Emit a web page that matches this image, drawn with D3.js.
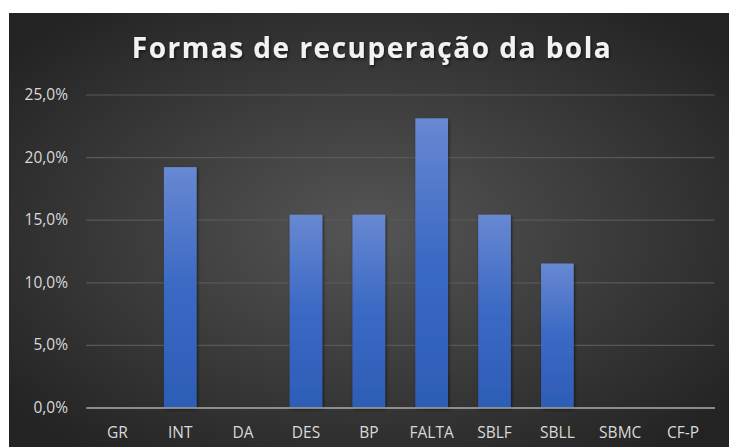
<!DOCTYPE html>
<html>
<head>
<meta charset="utf-8">
<script src="https://cdn.jsdelivr.net/npm/d3@7"></script>
<style>
    html, body { margin: 0; padding: 0; background: #fff; }
    text { font-family: 'Open Sans', 'DejaVu Sans', sans-serif; }
</style>
</head>
<body>
<div id="chart"></div>
<script>
const categories = ['GR', 'INT', 'DA', 'DES', 'BP', 'FALTA', 'SBLF', 'SBLL', 'SBMC', 'CF-P'];
const values = [0, 0.192, 0, 0.154, 0.154, 0.231, 0.154, 0.115, 0, 0];
const tickValues = [0, 0.05, 0.10, 0.15, 0.20, 0.25];

const width = 729;
const height = 447;
const margin = { top: 94.5, bottom: 39.5, left: 86, right: 14.5 };

const svg = d3.select('#chart').append('svg').attr('width', width).attr('height', height);
const defs = svg.append('defs');

// Excel-like dark radial background
const bg = defs.append('radialGradient').attr('id', 'bg').attr('cx', '50%').attr('cy', '50%').attr('r', '65%');
bg.append('stop').attr('offset', '0%').attr('stop-color', '#555555');
bg.append('stop').attr('offset', '100%').attr('stop-color', '#232323');

const barGrad = defs.append('linearGradient').attr('id', 'bar').attr('x1', 0).attr('y1', 0).attr('x2', 0).attr('y2', 1);
barGrad.append('stop').attr('offset', '0%').attr('stop-color', '#6888d2');
barGrad.append('stop').attr('offset', '50%').attr('stop-color', '#3a69c4');
barGrad.append('stop').attr('offset', '100%').attr('stop-color', '#2d5db6');

const shadow = defs.append('filter').attr('id', 'shadow').attr('x', '-20%').attr('y', '-20%').attr('width', '140%').attr('height', '140%');
shadow.append('feDropShadow').attr('dx', 1).attr('dy', 1.5).attr('stdDeviation', 1.5).attr('flood-color', '#000').attr('flood-opacity', 0.6);

svg.append('rect').attr('x', 9).attr('y', 13).attr('width', width - 9).attr('height', height - 13).attr('fill', 'url(#bg)');

const chartWidth = width - margin.left - margin.right;
const chartHeight = height - margin.top - margin.bottom;
const chart = svg.append('g').attr('transform', `translate(${margin.left}, ${margin.top})`);

const xScale = d3.scaleBand().domain(categories).range([0, chartWidth]).paddingInner(0.48).paddingOuter(0.24);
const yScale = d3.scaleLinear().domain([0, 0.25]).range([chartHeight, 0]);

const fmt = (v) => d3.format('.1f')(v * 100).replace('.', ',') + '%';

// Grid lines
chart
    .append('g')
    .call(d3.axisLeft(yScale).tickValues(tickValues).tickSize(-chartWidth).tickFormat(''))
    .call((g) => g.select('.domain').remove())
    .call((g) => g.selectAll('.tick line').attr('stroke', '#585858').attr('stroke-width', 1.2));

// Y axis labels
chart
    .append('g')
    .call(d3.axisLeft(yScale).tickValues(tickValues).tickSize(0).tickPadding(18).tickFormat(fmt))
    .call((g) => g.select('.domain').remove())
    .call((g) => g.selectAll('text').attr('fill', '#d9d9d9').attr('font-size', 15.5));

// Bars
chart
    .append('g')
    .selectAll()
    .data(categories.map((c, i) => ({ key: c, value: values[i] })))
    .enter()
    .filter((d) => d.value > 0)
    .append('rect')
    .attr('x', (d) => xScale(d.key))
    .attr('y', (d) => yScale(d.value))
    .attr('width', xScale.bandwidth())
    .attr('height', (d) => chartHeight - yScale(d.value))
    .attr('fill', 'url(#bar)')
    .attr('filter', 'url(#shadow)');

// X axis
chart
    .append('g')
    .attr('transform', `translate(0, ${chartHeight})`)
    .call(d3.axisBottom(xScale).tickSize(0).tickPadding(19))
    .call((g) => g.select('.domain').attr('stroke', '#a6a6a6').attr('stroke-width', 1.5))
    .call((g) => g.selectAll('text').attr('fill', '#d9d9d9').attr('font-size', 15.5));

// Title
svg.append('text')
    .attr('x', 372)
    .attr('y', 58)
    .attr('text-anchor', 'middle')
    .attr('fill', '#f2f2f2')
    .attr('font-size', 28)
    .attr('font-weight', 'bold')
    .attr('letter-spacing', 1.5)
    .attr('filter', 'url(#shadow)')
    .text('Formas de recuperação da bola');
</script>
</body>
</html>
